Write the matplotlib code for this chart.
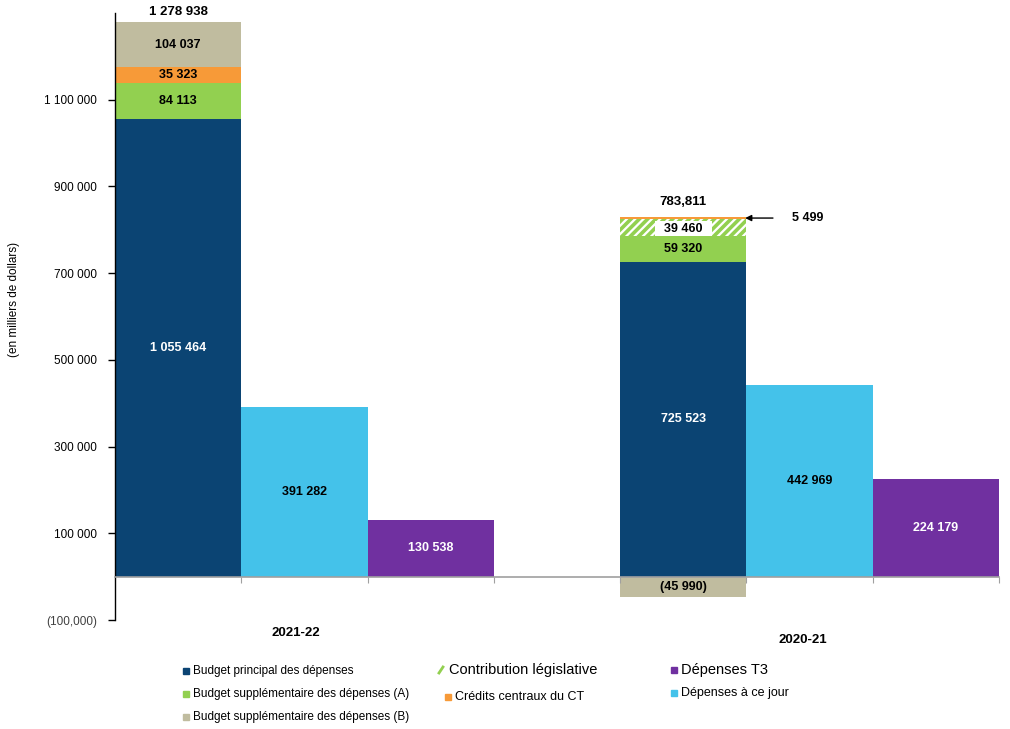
import matplotlib
matplotlib.use('Agg')
import matplotlib.pyplot as plt
from matplotlib.patches import Rectangle
from matplotlib.lines import Line2D

plt.rcParams['font.family'] = ['Liberation Sans', 'DejaVu Sans']
plt.rcParams['hatch.linewidth'] = 2.6

# Data (en milliers de dollars)
years = ['2021-22', '2020-21']
budget_principal = [1055464, 725523]
supp_a = [84113, 59320]
contribution = [0, 39460]
credits_ct = [35323, 5499]
supp_b = [104037, -45990]
depenses_jour = [391282, 442969]
depenses_t3 = [130538, 224179]
total_labels = ['1 278 938', '783,811']

y_ticks = [-100000, 100000, 300000, 500000, 700000, 900000, 1100000]
y_tick_labels = ['(100,000)', '100 000', '300 000', '500 000', '700 000', '900 000', '1 100 000']

navy = '#0B4473'
green = '#92D050'
orange = '#F79A38'
beige = '#C0BC9F'
cyan = '#44C2EA'
purple = '#7030A0'


def fmt(v):
    s = f"{abs(v):,}".replace(',', ' ')
    return f"({s})" if v < 0 else s


fig = plt.figure(figsize=(10.10, 7.29), dpi=100)
ax = fig.add_axes([115 / 1010, 109 / 729, 884 / 1010, 607 / 729])

# group centres (in bar widths)
stack_x = [0.5, 4.5]
jour_x = [1.5, 5.5]
t3_x = [2.5, 6.5]
lbl = dict(ha='center', va='center', fontsize=9, fontweight='bold')

for i in range(len(years)):
    x = stack_x[i]
    bottom = 0
    ax.bar(x, budget_principal[i], width=1, color=navy, linewidth=0)
    ax.text(x, budget_principal[i] / 2, fmt(budget_principal[i]), color='white', **lbl)
    bottom += budget_principal[i]

    ax.bar(x, supp_a[i], bottom=bottom, width=1, color=green, linewidth=0)
    ax.text(x, bottom + supp_a[i] / 2, fmt(supp_a[i]), color='black', **lbl)
    bottom += supp_a[i]

    if contribution[i]:
        ax.bar(x, contribution[i], bottom=bottom, width=1, facecolor='white',
               edgecolor=green, hatch='////', linewidth=0)
        # white label box inside the hatched segment
        ax.add_patch(Rectangle((x - 0.225, bottom), 0.45, contribution[i] * 0.9,
                               facecolor='white', edgecolor='none', zorder=3))
        ax.text(x, bottom + contribution[i] * 0.45, fmt(contribution[i]), color='black',
                zorder=4, **lbl)
        bottom += contribution[i]

    ax.bar(x, credits_ct[i], bottom=bottom, width=1, color=orange, linewidth=0)
    if credits_ct[i] > 20000:
        ax.text(x, bottom + credits_ct[i] / 2, fmt(credits_ct[i]), color='black', **lbl)
    else:
        yc = bottom + credits_ct[i] / 2
        ax.annotate('', xy=(x + 0.49, yc), xytext=(x + 0.71, yc),
                    arrowprops=dict(arrowstyle='-|>', color='black', lw=1,
                                    mutation_scale=9, shrinkA=0, shrinkB=0))
        ax.text(x + 0.86, yc, fmt(credits_ct[i]), ha='left', va='center',
                fontsize=9, fontweight='bold')
    bottom += credits_ct[i]

    if supp_b[i] > 0:
        ax.bar(x, supp_b[i], bottom=bottom, width=1, color=beige, linewidth=0)
        ax.text(x, bottom + supp_b[i] / 2, fmt(supp_b[i]), color='black', **lbl)
        bottom += supp_b[i]
        off = 7
    else:
        ax.bar(x, supp_b[i], width=1, color=beige, linewidth=0)
        ax.text(x, supp_b[i] / 2, fmt(supp_b[i]), color='black', **lbl)
        off = 11

    ax.annotate(total_labels[i], xy=(x, bottom), xytext=(0, off), textcoords='offset points',
                ha='center', va='center', fontsize=9.5, fontweight='bold')

    ax.bar(jour_x[i], depenses_jour[i], width=1, color=cyan, linewidth=0)
    ax.text(jour_x[i], depenses_jour[i] / 2, fmt(depenses_jour[i]), color='black', **lbl)

    ax.bar(t3_x[i], depenses_t3[i], width=1, color=purple, linewidth=0)
    ax.text(t3_x[i], depenses_t3[i] / 2, fmt(depenses_t3[i]), color='white', **lbl)

# axes styling
ax.set_xlim(0, 7)
ax.set_ylim(-100000, 1300000)
ax.set_yticks(y_ticks)
ax.set_yticklabels(y_tick_labels, fontsize=8.5)
ax.get_yticklabels()[0].set_color('#404040')
ax.tick_params(axis='y', direction='out', length=5, width=1, pad=8, color='black')

for s in ['top', 'right']:
    ax.spines[s].set_visible(False)
ax.spines['left'].set_color('black')
ax.spines['left'].set_linewidth(1)
ax.spines['bottom'].set_position(('data', 0))
ax.spines['bottom'].set_color('#A0A0A0')
ax.spines['bottom'].set_linewidth(1.2)
ax.set_xticks([1, 2, 3, 4, 5, 6, 7])
ax.set_xticklabels([])
ax.tick_params(axis='x', direction='out', length=4, color='#A0A0A0')

cat_x = [1.43, 5.45]
cat_y = [-131000, -145000]
for i, yr in enumerate(years):
    ax.text(cat_x[i], cat_y[i], yr, ha='center', va='center', fontsize=9.5,
            fontweight='bold', clip_on=False)

fig.text(14 / 1010, 1 - 299 / 729, '(en milliers de dollars)', rotation=90,
         ha='center', va='center', fontsize=8.5)

# legend, laid out by hand as in the original
legend_items = [
    ('Budget principal des dépenses', navy, 'sq', 186, 671, 8.5),
    ('Budget supplémentaire des dépenses (A)', green, 'sq', 186, 694, 8.5),
    ('Budget supplémentaire des dépenses (B)', beige, 'sq', 186, 717, 8.5),
    ('Contribution législative', green, 'slash', 441, 670, 10.5),
    ('Crédits centraux du CT', orange, 'sq', 448, 697, 9),
    ('Dépenses T3', purple, 'sq', 674, 670, 10.5),
    ('Dépenses à ce jour', cyan, 'sq', 674, 693, 9),
]
for text, col, kind, px, py, fs in legend_items:
    if kind == 'sq':
        fig.patches.append(Rectangle(((px - 3) / 1010, 1 - (py + 3) / 729), 6 / 1010, 6 / 729,
                                     transform=fig.transFigure, color=col))
        tx = px + 7
    else:
        fig.lines.append(Line2D([(px - 2) / 1010, (px + 2) / 1010],
                                [1 - (py + 3) / 729, 1 - (py - 3) / 729],
                                transform=fig.transFigure, color=col, lw=2))
        tx = px + 8
    fig.text(tx / 1010, 1 - py / 729, text, ha='left', va='center', fontsize=fs)

fig.savefig('out.png', dpi=100)
